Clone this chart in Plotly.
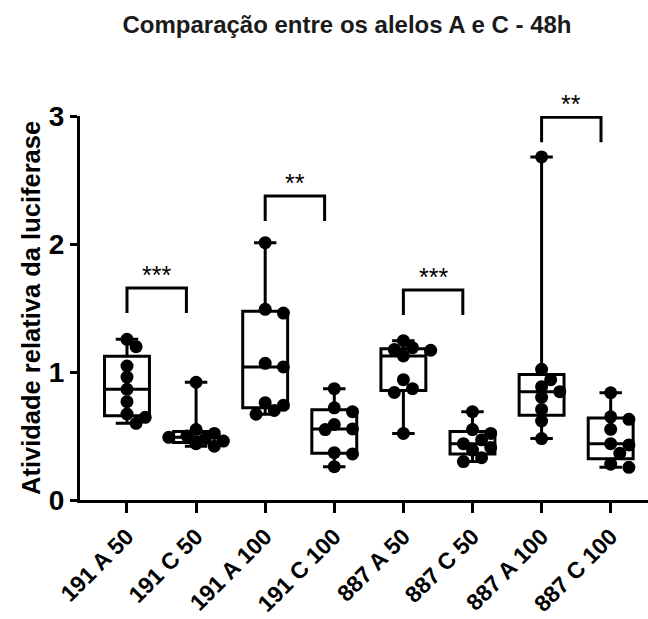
import numpy as np
import plotly.graph_objects as go

# Groups and relative luciferase activity (9 replicates each)
groups = ["191 A 50", "191 C 50", "191 A 100", "191 C 100",
          "887 A 50", "887 C 50", "887 A 100", "887 C 100"]

a191_50 = [1.255, 1.198, 1.047, 0.960, 0.865, 0.768, 0.672, 0.646, 0.599]
c191_50 = [0.92, 0.55, 0.52, 0.50, 0.49, 0.48, 0.46, 0.44, 0.42]
a191_100 = [2.01, 1.49, 1.46, 1.068, 1.040, 0.760, 0.740, 0.700, 0.670]
c191_100 = [0.87, 0.72, 0.69, 0.59, 0.555, 0.55, 0.37, 0.36, 0.26]
a887_50 = [1.245, 1.19, 1.175, 1.17, 1.125, 0.94, 0.87, 0.84, 0.52]
c887_50 = [0.69, 0.55, 0.52, 0.47, 0.44, 0.41, 0.39, 0.33, 0.30]
a887_100 = [2.68, 1.021, 0.94, 0.885, 0.846, 0.802, 0.708, 0.617, 0.48]
c887_100 = [0.838, 0.65, 0.63, 0.552, 0.44, 0.43, 0.365, 0.28, 0.255]

values = [a191_50, c191_50, a191_100, c191_100,
          a887_50, c887_50, a887_100, c887_100]

# Significance comparisons (index A, index C, label)
comparisons = [(0, 1, "***"), (2, 3, "**"), (4, 5, "***"), (6, 7, "**")]
y_ticks = [0, 1, 2, 3]

# ---- styling / geometry ----
W, H = 648, 619
ML, MR, MT, MB = 80, 0, 116, 119
X_RANGE = [-0.68, 7.54]
Y_RANGE = [0, 3]
FONT = "Arial, Liberation Sans, sans-serif"
BOX_W = 0.65
MARKER = 13
bracket_top = [1.656, 2.375, 1.64, 2.99]
LEG = 0.195
RIGHT_SHIFT = 0.14

px_x = (W - ML - MR) / (X_RANGE[1] - X_RANGE[0])
px_y = (H - MT - MB) / (Y_RANGE[1] - Y_RANGE[0])


def swarm(vals, center):
    """Spread points sideways so markers don't pile on top of each other."""
    order = np.argsort(vals)[::-1]
    placed = []
    xs = np.zeros(len(vals))
    step = MARKER * 0.7
    for idx in order:
        yv = vals[idx] * px_y
        for k in range(0, 20):
            off = ((k + 1) // 2) * step * (1 if k % 2 else -1) if k else 0.0
            ok = all(np.hypot(off - px, yv - py) >= MARKER * 0.8 for px, py in placed)
            if ok:
                break
        placed.append((off, yv))
        xs[idx] = center + off / px_x
    return xs


fig = go.Figure()

for i, vals in enumerate(values):
    v = np.asarray(vals, dtype=float)
    q1, med, q3 = np.percentile(v, [25, 50, 75], method="weibull")
    fig.add_trace(go.Box(
        x=[i], q1=[q1], median=[med], q3=[q3],
        lowerfence=[v.min()], upperfence=[v.max()],
        width=BOX_W, whiskerwidth=0.5, boxpoints=False,
        line=dict(color="black", width=3), fillcolor="rgba(255,255,255,0)",
        showlegend=False, hoverinfo="skip",
    ))

for i, vals in enumerate(values):
    v = np.asarray(vals, dtype=float)
    fig.add_trace(go.Scatter(
        x=swarm(v, i), y=v, mode="markers",
        marker=dict(color="black", size=MARKER, line=dict(width=0)),
        showlegend=False, cliponaxis=False,
    ))

# Significance brackets
for (a, c, label), top in zip(comparisons, bracket_top):
    xl, xr = a, c - RIGHT_SHIFT
    fig.add_trace(go.Scatter(
        x=[xl, xl, xr, xr], y=[top - LEG, top, top, top - LEG],
        mode="lines", line=dict(color="black", width=3),
        showlegend=False, hoverinfo="skip",
    ))
    fig.add_annotation(x=(xl + xr) / 2, y=top, yanchor="bottom", yshift=-3,
                       text=label, showarrow=False,
                       font=dict(family=FONT, size=25, color="black"))

fig.add_annotation(
    xref="paper", yref="paper", x=-(ML - 31) / (W - ML - MR), y=0.5,
    xanchor="center", yanchor="middle",
    text="Atividade relativa da luciferase", textangle=-90, showarrow=False,
    font=dict(family=FONT, size=25.5, color="black", weight="bold"),
)

fig.update_layout(
    width=W, height=H,
    margin=dict(l=ML, r=MR, t=MT, b=MB, autoexpand=False),
    plot_bgcolor="white", paper_bgcolor="white",
    title=dict(text="Comparação entre os alelos A e C - 48h",
               x=347 / W, xanchor="center", y=1 - 25 / H, yanchor="middle",
               font=dict(family=FONT, size=24, color="#1a1a1a", weight="bold")),
    xaxis=dict(range=X_RANGE, tickvals=list(range(len(groups))), ticktext=groups,
               tickangle=-45, showline=True, linecolor="black", linewidth=3,
               ticks="outside", ticklen=10, tickwidth=3, tickcolor="black",
               ticklabelstandoff=1, automargin=False,
               showgrid=False, zeroline=False,
               tickfont=dict(family=FONT, size=23, color="black", weight="bold")),
    yaxis=dict(range=Y_RANGE, tickvals=y_ticks, showline=True, linecolor="black",
               linewidth=3, ticks="outside", ticklen=7, tickwidth=3,
               tickcolor="black", showgrid=False, zeroline=False,
               automargin=False,
               tickfont=dict(family=FONT, size=28, color="black", weight="bold")),
)

fig.write_html("out.html")
